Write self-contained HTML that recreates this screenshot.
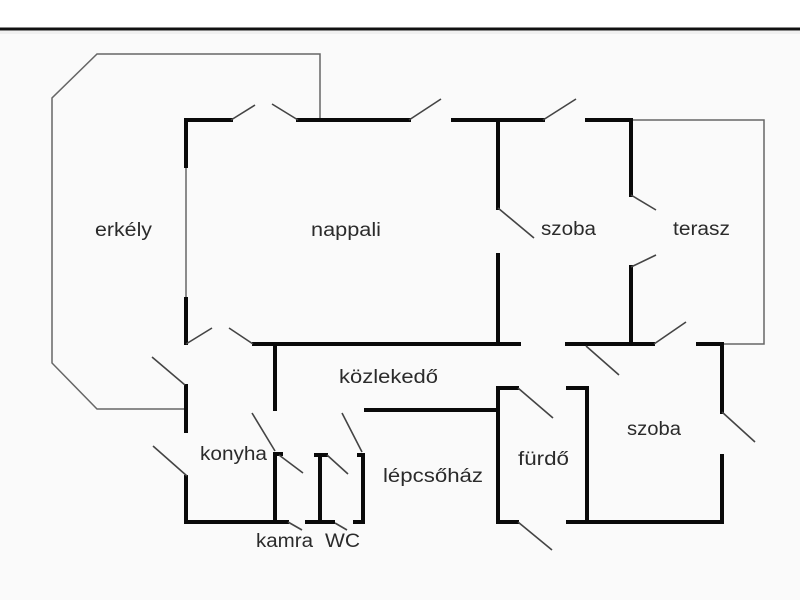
<!DOCTYPE html>
<html>
<head>
<meta charset="utf-8">
<style>
html,body{margin:0;padding:0;background:#fff;}
svg{display:block;}
text{font-family:"Liberation Sans","DejaVu Sans",sans-serif;font-size:19px;fill:#2b2b2b;}
</style>
</head>
<body>
<svg width="800" height="600" viewBox="0 0 800 600" xmlns="http://www.w3.org/2000/svg">
  <rect x="0" y="0" width="800" height="600" fill="#fafafa"/>
  <rect x="0" y="0" width="800" height="28" fill="#ffffff"/>
  <rect x="0" y="31" width="800" height="3" fill="#f0f0f0"/>
  <line x1="0" y1="29" x2="800" y2="29" stroke="#111" stroke-width="3"/>

  <!-- thin outlines: balcony & terrace -->
  <g fill="none" stroke="#666" stroke-width="1.5">
    <polyline points="320,120 320,54 97,54 52,98 52,363 97,409 186,409"/>
    <polyline points="631,120 764,120 764,344 722,344"/>
    <line x1="186" y1="167" x2="186" y2="298"/>
  </g>

  <!-- thick walls -->
  <g fill="none" stroke="#0a0a0a" stroke-width="4" stroke-linecap="square">
    <line x1="186" y1="120" x2="231" y2="120"/>
    <line x1="298" y1="120" x2="409" y2="120"/>
    <line x1="453" y1="120" x2="543" y2="120"/>
    <line x1="587" y1="120" x2="631" y2="120"/>
    <line x1="186" y1="120" x2="186" y2="166"/>
    <line x1="186" y1="299" x2="186" y2="343"/>
    <line x1="498" y1="120" x2="498" y2="208"/>
    <line x1="498" y1="255" x2="498" y2="344"/>
    <line x1="631" y1="120" x2="631" y2="195"/>
    <line x1="631" y1="267" x2="631" y2="344"/>
    <line x1="254" y1="344" x2="519" y2="344"/>
    <line x1="567" y1="344" x2="653" y2="344"/>
    <line x1="698" y1="344" x2="722" y2="344"/>
    <line x1="275" y1="344" x2="275" y2="409"/>
    <line x1="722" y1="344" x2="722" y2="412"/>
    <line x1="722" y1="456" x2="722" y2="522"/>
    <line x1="366" y1="410" x2="498" y2="410"/>
    <line x1="186" y1="386" x2="186" y2="431"/>
    <line x1="186" y1="477" x2="186" y2="522"/>
    <line x1="186" y1="522" x2="287" y2="522"/>
    <line x1="275" y1="454" x2="275" y2="522"/>
    <line x1="275" y1="454" x2="281" y2="454"/>
    <line x1="320" y1="455" x2="320" y2="522"/>
    <line x1="316" y1="455" x2="326" y2="455"/>
    <line x1="307" y1="522" x2="333" y2="522"/>
    <line x1="363" y1="455" x2="363" y2="522"/>
    <line x1="359" y1="455" x2="363" y2="455"/>
    <line x1="355" y1="522" x2="363" y2="522"/>
    <line x1="498" y1="388" x2="498" y2="522"/>
    <line x1="498" y1="388" x2="517" y2="388"/>
    <line x1="498" y1="522" x2="517" y2="522"/>
    <line x1="587" y1="388" x2="587" y2="522"/>
    <line x1="568" y1="388" x2="587" y2="388"/>
    <line x1="568" y1="522" x2="722" y2="522"/>
  </g>

  <!-- door leaves -->
  <g fill="none" stroke="#444" stroke-width="1.6">
    <line x1="231" y1="120" x2="255" y2="105"/>
    <line x1="272" y1="104" x2="298" y2="120"/>
    <line x1="409" y1="120" x2="441" y2="99"/>
    <line x1="543" y1="120" x2="576" y2="99"/>
    <line x1="498" y1="208" x2="534" y2="238"/>
    <line x1="631" y1="195" x2="656" y2="210"/>
    <line x1="631" y1="267" x2="656" y2="255"/>
    <line x1="654" y1="344" x2="686" y2="322"/>
    <line x1="586" y1="346" x2="619" y2="375"/>
    <line x1="186" y1="344" x2="212" y2="328"/>
    <line x1="229" y1="328" x2="253" y2="344"/>
    <line x1="152" y1="357" x2="185" y2="385"/>
    <line x1="153" y1="446" x2="187" y2="476"/>
    <line x1="252" y1="413" x2="275" y2="451"/>
    <line x1="279" y1="455" x2="303" y2="473"/>
    <line x1="288" y1="522" x2="302" y2="530"/>
    <line x1="327" y1="455" x2="348" y2="474"/>
    <line x1="335" y1="523" x2="347" y2="530"/>
    <line x1="342" y1="413" x2="362" y2="452"/>
    <line x1="518" y1="388" x2="553" y2="418"/>
    <line x1="518" y1="522" x2="552" y2="550"/>
    <line x1="722" y1="412" x2="755" y2="442"/>
  </g>

  <!-- labels -->
  <text x="95" y="236" textLength="57" lengthAdjust="spacingAndGlyphs">erkély</text>
  <text x="311" y="236" textLength="70" lengthAdjust="spacingAndGlyphs">nappali</text>
  <text x="541" y="235" textLength="55" lengthAdjust="spacingAndGlyphs">szoba</text>
  <text x="673" y="235" textLength="57" lengthAdjust="spacingAndGlyphs">terasz</text>
  <text x="339" y="383" textLength="99" lengthAdjust="spacingAndGlyphs">közlekedő</text>
  <text x="200" y="460" textLength="67" lengthAdjust="spacingAndGlyphs">konyha</text>
  <text x="383" y="482" textLength="100" lengthAdjust="spacingAndGlyphs">lépcsőház</text>
  <text x="518" y="465" textLength="51" lengthAdjust="spacingAndGlyphs">fürdő</text>
  <text x="627" y="435" textLength="54" lengthAdjust="spacingAndGlyphs">szoba</text>
  <text x="256" y="547" textLength="57" lengthAdjust="spacingAndGlyphs">kamra</text>
  <text x="325" y="547" textLength="35" lengthAdjust="spacingAndGlyphs">WC</text>
</svg>
</body>
</html>
